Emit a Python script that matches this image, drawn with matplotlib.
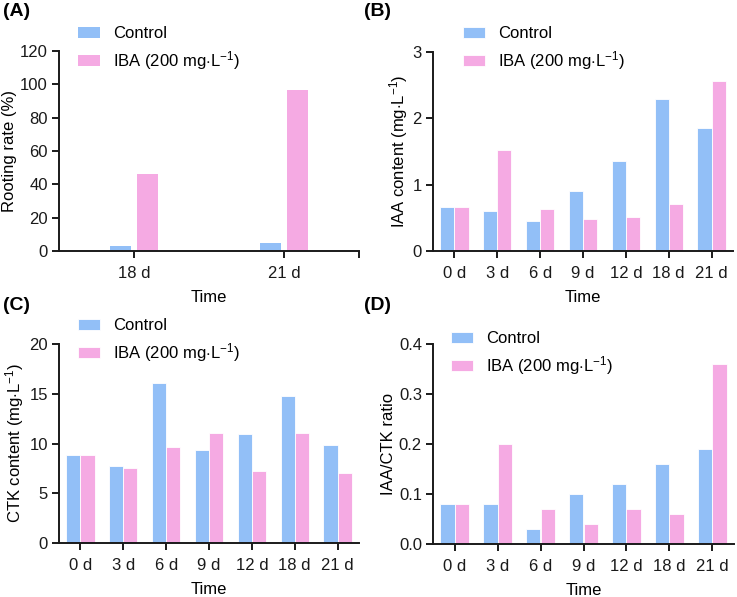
import numpy as np
import matplotlib
matplotlib.use('Agg')
import matplotlib.pyplot as plt

plt.rcParams['font.family'] = ['Liberation Sans', 'DejaVu Sans']
plt.rcParams['mathtext.fontset'] = 'custom'
plt.rcParams['mathtext.rm'] = 'Liberation Sans'
plt.rcParams['mathtext.it'] = 'Liberation Sans:italic'
plt.rcParams['font.size'] = 12

# data
days_a = ['18 d', '21 d']
root_control = [3, 5]
root_iba = [46, 96.5]

days = ['0 d', '3 d', '6 d', '9 d', '12 d', '18 d', '21 d']
iaa_control = [0.67, 0.60, 0.45, 0.90, 1.35, 2.29, 1.85]
iaa_iba = [0.67, 1.53, 0.64, 0.48, 0.52, 0.71, 2.56]
ctk_control = [8.86, 7.69, 16.05, 9.36, 11.0, 14.8, 9.8]
ctk_iba = [8.86, 7.56, 9.67, 11.1, 7.26, 11.1, 7.02]
ratio_control = [0.08, 0.08, 0.03, 0.10, 0.12, 0.16, 0.19]
ratio_iba = [0.08, 0.20, 0.07, 0.04, 0.07, 0.06, 0.36]

c_blue = '#92BFF7'
c_pink = '#F5AAE3'
unit = r'(mg$\cdot$L$^{-1}$)'
lab_control = 'Control'
lab_iba = r'IBA (200 mg$\cdot$L$^{-1}$)'

W, H = 737, 597
fig = plt.figure(figsize=(W / 100, H / 100), dpi=100)


def px_axes(x0, x1, y0, y1):
    return fig.add_axes([x0 / W, 1 - y1 / H, (x1 - x0) / W, (y1 - y0) / H])


def style(ax):
    for s in ['top', 'right']:
        ax.spines[s].set_visible(False)
    for s in ['left', 'bottom']:
        ax.spines[s].set_linewidth(1.4)
        ax.spines[s].set_color('#1a1a1a')
    ax.tick_params(direction='out', length=5, width=1.4, colors='#1a1a1a',
                   labelsize=12)
    ax.tick_params(axis='x', pad=6)
    ax.tick_params(axis='y', pad=3)


def add_legend(ax, x, y):
    ax.legend(loc='center left', bbox_to_anchor=(x / W, 1 - y / H),
              bbox_transform=fig.transFigure, frameon=False,
              borderpad=0, borderaxespad=0, handlelength=1.3,
              handleheight=0.65, handletextpad=0.8, labelspacing=0.45,
              fontsize=12)


# (A)
ax = px_axes(59, 359, 51, 251)
xa = np.arange(len(days_a))
ax.bar(xa - 0.088, root_control, 0.14, color=c_blue, label=lab_control)
ax.bar(xa + 0.088, root_iba, 0.14, color=c_pink, label=lab_iba)
ax.set_xlim(-0.5, 1.5)
ax.set_ylim(0, 120)
ax.set_yticks(np.arange(0, 121, 20))
ax.set_xticks([0, 1, 1.5])
ax.set_xticklabels(days_a + [''])
ax.set_ylabel('Rooting rate (%)', labelpad=2)
ax.set_xlabel('Time', labelpad=6)
style(ax)
add_legend(ax, 78, 49)

panels = [
    ((433, 733, 52, 251), iaa_control, iaa_iba, (0, 3), np.arange(0, 4, 1),
     'IAA content ' + unit, (463, 49), '%d'),
    ((59, 359, 344, 543), ctk_control, ctk_iba, (0, 20), np.arange(0, 21, 5),
     'CTK content ' + unit, (78, 341), '%d'),
    ((433, 734, 344, 544), ratio_control, ratio_iba, (0, 0.4),
     np.arange(0, 0.41, 0.1), 'IAA/CTK ratio', (451, 354), '%.1f'),
]

x = np.arange(len(days))
for box, ctl, iba, ylim, yt, ylab, legpos, fmt in panels:
    ax = px_axes(*box)
    ax.bar(x - 0.165, ctl, 0.33, color=c_blue, edgecolor='white',
           linewidth=0.6, label=lab_control)
    ax.bar(x + 0.165, iba, 0.33, color=c_pink, edgecolor='white',
           linewidth=0.6, label=lab_iba)
    ax.set_xlim(-0.5, 6.5)
    ax.set_ylim(*ylim)
    ax.set_yticks(yt)
    ax.set_yticklabels([fmt % v for v in yt])
    ax.set_xticks(x)
    ax.set_xticklabels(days)
    ax.set_ylabel(ylab, labelpad=2)
    ax.set_xlabel('Time', labelpad=6)
    style(ax)
    add_legend(ax, *legpos)

for lab, px, py in [('(A)', 3, 12), ('(B)', 364, 12), ('(C)', 3, 306), ('(D)', 364, 306)]:
    fig.text(px / W, 1 - py / H, lab, fontsize=14, fontweight='bold',
             va='center', ha='left')

fig.savefig('out.png', dpi=100)
